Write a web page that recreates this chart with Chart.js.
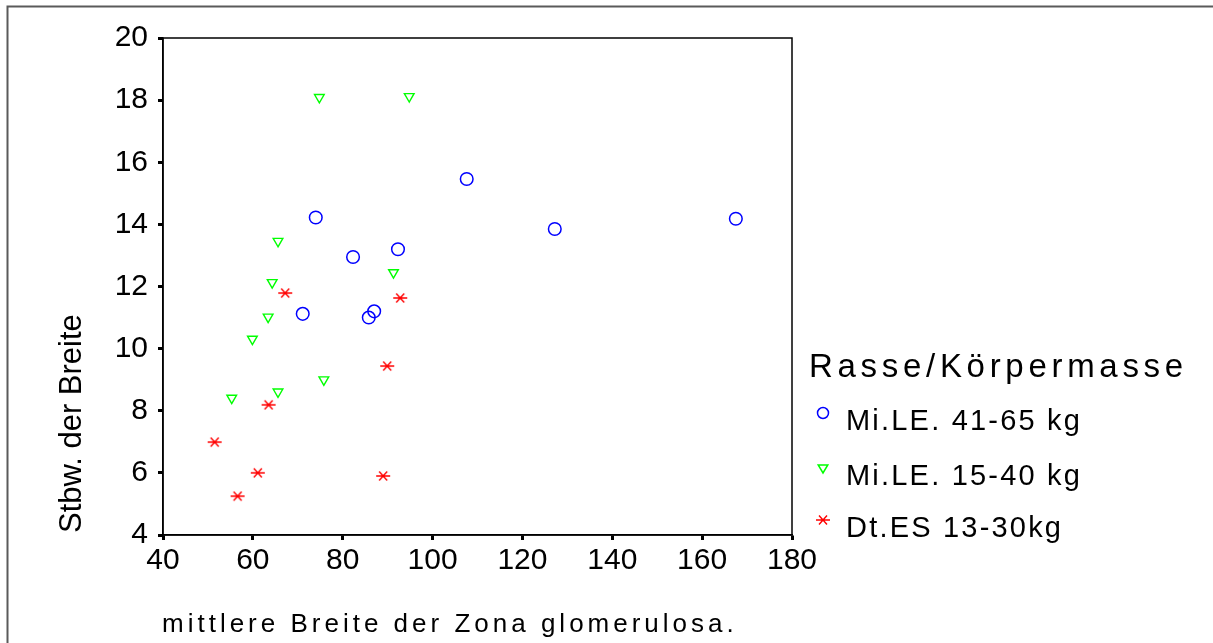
<!DOCTYPE html>
<html>
<head>
<meta charset="utf-8">
<script src="https://cdn.jsdelivr.net/npm/chart.js@4/dist/chart.umd.min.js"></script>
<style>
  html, body { margin: 0; padding: 0; background: #fff; }
  canvas { display: block; }
</style>
</head>
<body>
<canvas id="graph1" width="1213" height="643"></canvas>
<script>
// Daten
const groupLabels = ['Mi.LE. 41-65 kg', 'Mi.LE. 15-40 kg', 'Dt.ES 13-30kg'];
const legendTitle = 'Rasse/Körpermasse';
const xTitle = 'mittlere Breite der Zona glomerulosa.';
const yTitle = 'Stbw. der Breite';

const xTicks = [40, 60, 80, 100, 120, 140, 160, 180];
const yTicks = [4, 6, 8, 10, 12, 14, 16, 18, 20];

const heavyX = [74.0, 82.3, 92.3, 107.6, 127.2, 167.5, 71.1, 87.0, 85.8];
const heavyY = [14.22, 12.95, 13.2, 15.46, 13.85, 14.18, 11.12, 11.2, 11.0];

const lightX = [74.8, 94.8, 65.6, 91.3, 64.3, 63.4, 59.9, 75.8, 65.6, 55.3];
const lightY = [18.09, 18.12, 13.46, 12.45, 12.13, 11.02, 10.31, 9.0, 8.61, 8.41];

const dtesX = [67.2, 92.8, 89.9, 63.5, 51.5, 61.1, 89.0, 56.6];
const dtesY = [11.79, 11.63, 9.44, 8.19, 6.99, 6.0, 5.9, 5.25];

const FONT = "'Liberation Sans', Arial, sans-serif";
const BLUE = '#0000ff';
const GREEN = '#00ff00';
const RED = '#ff0000';

function toPoints(xs, ys) {
    return xs.map((x, i) => ({ x: x, y: ys[i] }));
}

// Sternchen wie im SPSS-Plot: waagrechter Strich + X
function makeStar(color) {
    const c = document.createElement('canvas');
    c.width = 16; c.height = 12;
    const g = c.getContext('2d');
    g.strokeStyle = color;
    g.lineWidth = 1.4;
    g.beginPath();
    g.moveTo(1, 6); g.lineTo(15, 6);
    g.moveTo(4, 1.5); g.lineTo(12, 10.5);
    g.moveTo(4, 10.5); g.lineTo(12, 1.5);
    g.stroke();
    return c;
}
const starImg = makeStar(RED);

const frameAndLegend = {
    id: 'frameAndLegend',
    beforeDatasetsDraw(chart) {
        const ctx = chart.ctx;
        const a = chart.chartArea;
        ctx.save();
        // äußerer Rahmen (rechts/unten abgeschnitten)
        ctx.strokeStyle = '#5a5a5a';
        ctx.lineWidth = 2;
        ctx.beginPath();
        ctx.moveTo(7.5, 643);
        ctx.lineTo(7.5, 6.5);
        ctx.lineTo(1213, 6.5);
        ctx.stroke();
        // Plotrahmen
        ctx.strokeStyle = '#000';
        ctx.lineWidth = 1.5;
        ctx.strokeRect(a.left, a.top, a.right - a.left, a.bottom - a.top);
        ctx.restore();
    },
    afterDraw(chart) {
        const ctx = chart.ctx;
        const a = chart.chartArea;
        ctx.save();
        ctx.fillStyle = '#000';
        ctx.textAlign = 'left';
        ctx.textBaseline = 'alphabetic';

        // x-Achsentitel
        ctx.font = '26px ' + FONT;
        ctx.letterSpacing = '4px';
        ctx.fillText(xTitle, a.left - 1, 632);

        // y-Achsentitel
        ctx.save();
        ctx.translate(81, 533);
        ctx.rotate(-Math.PI / 2);
        ctx.font = '31px ' + FONT;
        ctx.letterSpacing = '0px';
        ctx.fillText(yTitle, 0, 0);
        ctx.restore();

        // Legende
        ctx.font = '33px ' + FONT;
        ctx.letterSpacing = '4.7px';
        ctx.fillText(legendTitle, 809, 377);

        ctx.font = '29px ' + FONT;
        ctx.letterSpacing = '2.2px';
        const rows = [430, 485, 537];
        rows.forEach((by, i) => {
            ctx.fillText(groupLabels[i], 846, by);
            const mx = 823, my = by - 17;
            ctx.lineWidth = 1.5;
            if (i === 0) {
                ctx.strokeStyle = BLUE;
                ctx.beginPath();
                ctx.arc(mx, my, 5.5, 0, Math.PI * 2);
                ctx.stroke();
            } else if (i === 1) {
                ctx.strokeStyle = GREEN;
                ctx.beginPath();
                ctx.moveTo(mx - 4.8, my - 3);
                ctx.lineTo(mx + 4.8, my - 3);
                ctx.lineTo(mx, my + 5);
                ctx.closePath();
                ctx.stroke();
            } else {
                ctx.drawImage(starImg, mx - 8, my - 6);
            }
        });
        ctx.restore();
    }
};

const ctx = document.getElementById('graph1').getContext('2d');

const chart = new Chart(ctx, {
    type: 'scatter',
    data: {
        datasets: [{
            label: groupLabels[0],
            data: toPoints(heavyX, heavyY),
            pointStyle: 'circle',
            pointRadius: 6.3,
            borderColor: BLUE,
            backgroundColor: 'rgba(0,0,0,0)',
            borderWidth: 1.5
        }, {
            label: groupLabels[1],
            data: toPoints(lightX, lightY),
            pointStyle: 'triangle',
            rotation: 180,
            pointRadius: 5.6,
            borderColor: GREEN,
            backgroundColor: 'rgba(0,0,0,0)',
            borderWidth: 1.4
        }, {
            label: groupLabels[2],
            data: toPoints(dtesX, dtesY),
            pointStyle: starImg,
            pointRadius: 6,
            borderColor: RED,
            backgroundColor: RED
        }]
    },
    options: {
        responsive: false,
        animation: false,
        devicePixelRatio: 1,
        layout: { padding: { top: 38, right: 421, left: 0, bottom: 0 } },
        plugins: {
            legend: { display: false },
            tooltip: { enabled: false }
        },
        scales: {
            x: {
                type: 'linear',
                min: xTicks[0],
                max: xTicks[xTicks.length - 1],
                afterBuildTicks: (s) => { s.ticks = xTicks.map(v => ({ value: v })); },
                afterFit: (s) => { s.height = 108; },
                grid: { drawOnChartArea: false, drawTicks: true, tickLength: 5, tickWidth: 3, tickColor: '#000' },
                border: { display: true, color: '#000', width: 1.5 },
                ticks: { color: '#000', font: { family: FONT, size: 30 }, padding: 3, maxRotation: 0 }
            },
            y: {
                type: 'linear',
                min: yTicks[0],
                max: yTicks[yTicks.length - 1],
                afterBuildTicks: (s) => { s.ticks = yTicks.map(v => ({ value: v })); },
                afterFit: (s) => { s.width = 163; },
                grid: { drawOnChartArea: false, drawTicks: true, tickLength: 5, tickWidth: 3, tickColor: '#000' },
                border: { display: true, color: '#000', width: 1.5 },
                ticks: { color: '#000', font: { family: FONT, size: 30 }, padding: 10 }
            }
        }
    },
    plugins: [frameAndLegend]
});
</script>
</body>
</html>
